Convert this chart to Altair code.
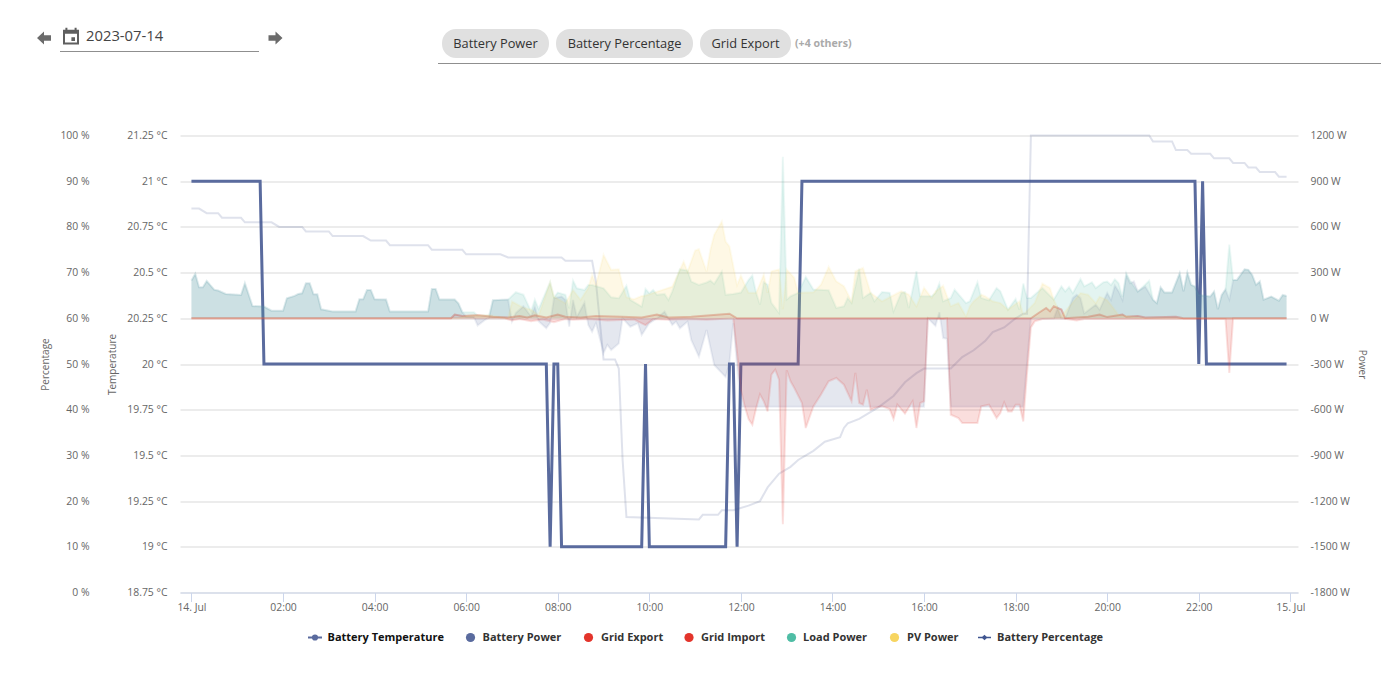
import altair as alt
import pandas as pd

# Each pair: (five-minute slot of the day, value)
temperature = [(0,21),(18,21),(19,20),(93,20),(94,19),(95,20),(96,20),(97,19),(118,19),(119,20),(120,19),(140,19),(141,20),(142,20),(143,19),(144,20),(159,20),(160,21),(263,21),(264,20),(265,21),(266,20),(287,20)]
percentage = [(0,84),(2,84),(4,83),(7,83),(8,82),(13,82),(14,81),(21,81),(23,80),(29,80),(30,79),(36,79),(37,78),(45,78),(47,77),(51,77),(52,76),(62,76),(63,75),(71,75),(72,74),(81,74),(83,73.3),(97,73.3),(98,72.6),(105,72.6),(106,68),(108,51),(111,51),(112,49),(113,29),(114,16.5),(133,16),(134,17),(138,17),(139,18),(142,18),(146,19),(149,20),(151,23),(154,26),(157,27.5),(159,29),(163,31),(166,33),(170,34),(171,36),(172,37),(175,38),(180,40.5),(184,43),(187,46),(190,48),(192,49),(199,49),(202,51.5),(205,53),(208,55),(210,57),(213,58),(216,60),(218,61),(219,61),(220,100),(251,100),(252,98.7),(257,98.7),(258,96.8),(261,96.8),(262,96),(267,96),(268,95),(272,95),(273,94),(276,94),(277,93),(279,93),(280,92),(284,92),(285,91),(287,91)]
load_power = [(0,248),(1,292),(2,204),(3,204),(4,245),(6,187),(7,182),(9,160),(13,153),(14,230),(16,81),(19,77),(21,50),(24,50),(25,132),(27,147),(28,160),(29,164),(30,230),(31,230),(32,158),(33,158),(34,59),(37,44),(43,44),(44,125),(45,125),(46,186),(47,186),(48,125),(51,123),(52,44),(62,44),(63,193),(64,193),(65,123),(69,123),(70,97),(71,40),(74,40),(75,18),(78,18),(79,118),(83,123),(85,171),(87,155),(89,46),(90,123),(91,61),(94,237),(95,138),(96,169),(98,154),(99,66),(100,248),(101,197),(103,186),(104,219),(105,219),(108,197),(110,138),(112,132),(114,213),(115,121),(118,77),(119,193),(120,165),(121,186),(122,154),(124,160),(125,121),(126,175),(128,322),(130,314),(131,241),(133,219),(135,235),(136,248),(137,226),(139,307),(140,154),(142,160),(144,169),(146,252),(147,281),(148,167),(149,90),(150,237),(151,220),(152,101),(154,35),(155,1060),(156,123),(157,145),(159,167),(161,272),(163,189),(167,184),(169,68),(171,79),(172,134),(173,101),(175,325),(176,134),(178,167),(179,112),(181,173),(183,167),(184,46),(186,167),(187,171),(188,68),(190,309),(191,145),(194,145),(195,166),(196,228),(197,112),(199,134),(200,188),(203,100),(204,112),(206,237),(207,134),(209,118),(211,199),(212,177),(214,57),(216,127),(217,57),(218,228),(219,134),(220,134),(223,199),(226,123),(228,210),(229,177),(230,206),(231,166),(233,258),(234,210),(236,237),(237,199),(239,237),(240,241),(241,219),(242,256),(243,230),(244,142),(245,296),(246,247),(248,175),(251,247),(252,122),(253,100),(254,204),(255,170),(257,170),(259,296),(260,178),(261,300),(262,220),(263,208),(264,153),(267,143),(268,176),(269,60),(270,153),(271,190),(272,484),(273,252),(274,252),(276,322),(277,318),(278,285),(279,220),(280,242),(281,122),(283,143),(285,116),(286,153),(287,147)]
battery_power = [(0,248),(1,292),(2,204),(3,204),(4,245),(6,187),(7,182),(9,160),(13,153),(14,230),(16,81),(19,77),(21,50),(24,50),(25,132),(27,147),(28,160),(29,164),(30,230),(31,230),(32,158),(33,158),(34,59),(37,44),(43,44),(44,125),(45,125),(46,186),(47,186),(48,125),(51,123),(52,44),(62,44),(63,193),(64,193),(65,123),(69,123),(70,97),(71,40),(72,10),(74,10),(75,-48),(77,-10),(78,5),(79,118),(83,123),(84,-20),(85,35),(87,79),(89,13),(90,79),(91,-20),(93,-66),(94,-30),(95,132),(97,143),(98,121),(99,-55),(100,121),(101,11),(103,103),(104,-44),(105,-88),(106,-33),(108,-230),(109,-175),(110,-208),(112,-165),(113,0),(115,-55),(117,-33),(118,-110),(120,-33),(122,0),(124,44),(126,-44),(127,-22),(128,-66),(130,-22),(131,-143),(133,-252),(135,-77),(137,-307),(140,-385),(141,-297),(142,-33),(144,-580),(192,-580),(193,0),(195,-50),(196,40),(197,-130),(198,-135),(199,-580),(218,-580),(219,-290),(220,0),(226,0),(227,68),(228,0),(229,0),(231,134),(232,155),(233,134),(234,33),(237,90),(238,57),(240,167),(241,122),(242,215),(243,178),(244,122),(245,285),(246,230),(247,242),(248,178),(250,208),(252,122),(253,100),(254,204),(255,170),(257,170),(259,296),(260,178),(261,300),(262,220),(263,208),(264,153),(267,143),(268,176),(269,60),(270,153),(271,190),(272,125),(273,252),(274,252),(276,322),(277,318),(278,285),(279,220),(280,242),(281,122),(283,143),(285,116),(286,153),(287,147)]
pv_power = [(0,0),(70,0),(72,15),(74,20),(78,20),(83,0),(84,110),(87,70),(89,57),(91,22),(94,237),(95,143),(98,99),(100,186),(102,121),(104,200),(105,285),(106,219),(108,417),(110,318),(112,322),(113,219),(114,138),(116,125),(118,147),(119,150),(126,208),(129,373),(130,307),(132,445),(133,454),(135,307),(136,450),(137,548),(139,636),(140,504),(141,472),(143,219),(144,281),(145,222),(146,167),(148,167),(150,287),(151,167),(152,309),(154,320),(155,60),(156,320),(158,266),(159,167),(163,171),(165,222),(167,338),(169,243),(171,211),(173,112),(174,309),(176,331),(178,167),(181,112),(186,178),(188,156),(190,79),(192,200),(194,134),(195,177),(197,214),(199,79),(201,100),(203,13),(204,79),(205,112),(207,155),(208,145),(210,112),(212,100),(214,57),(217,112),(218,24),(221,100),(223,228),(225,199),(226,123),(228,13),(229,46),(233,166),(235,155),(237,100),(238,142),(240,120),(241,88),(243,22),(248,6),(250,0),(287,0)]
grid_export = [(0,0),(82,0),(84,-15),(86,-5),(89,-20),(92,-8),(95,-25),(98,-5),(100,-10),(104,-5),(109,-15),(116,-8),(119,-45),(121,-5),(125,-10),(130,-5),(135,-10),(142,0),(143,-228),(144,-469),(145,-578),(146,-661),(147,-699),(148,-589),(149,-500),(150,-545),(151,-611),(152,-370),(153,-337),(154,-403),(155,-1352),(156,-342),(157,-414),(158,-458),(160,-556),(161,-720),(163,-578),(165,-500),(167,-414),(169,-392),(171,-436),(173,-545),(174,-359),(175,-556),(176,-567),(177,-469),(178,-600),(179,-589),(181,-578),(183,-596),(184,-661),(185,-567),(187,-626),(189,-545),(190,-720),(191,-556),(192,-545),(193,0),(197,-5),(198,0),(199,-633),(201,-655),(202,-688),(206,-688),(207,-578),(209,-567),(211,-655),(212,-622),(213,-552),(214,-611),(215,-611),(216,-567),(217,-567),(218,-677),(219,-359),(220,-60),(221,-20),(223,-5),(228,0),(232,-15),(234,-5),(236,-5),(271,-5),(272,-358),(273,0),(287,0)]
grid_import = [(0,0),(68,0),(69,25),(71,15),(75,20),(79,10),(83,5),(86,15),(88,5),(90,20),(93,5),(96,25),(98,10),(102,5),(106,15),(113,10),(118,5),(122,25),(125,5),(131,10),(136,20),(141,30),(143,0),(219,0),(220,0),(222,35),(224,68),(225,46),(226,79),(228,57),(229,0),(235,10),(238,25),(240,8),(244,25),(245,10),(248,15),(250,5),(258,10),(260,0),(287,0)]

pct_ticks = [0,10,20,30,40,50,60,70,80,90,100]
temp_ticks = [18.75,19,19.25,19.5,19.75,20,20.25,20.5,20.75,21,21.25]
power_ticks = [-1800,-1500,-1200,-900,-600,-300,0,300,600,900,1200]
hour_ticks = [0,2,4,6,8,10,12,14,16,18,20,22,24]

BLUE = "#5a6b9e"
DEEP = "#3f5590"
RED = "#e3342b"
TEAL = "#4fbda5"
YELLOW = "#f7d560"
FONT = "Open Sans"
TICKFS = 10.4

def frame(pairs):
    return pd.DataFrame({"t": [k * 5 / 60 for k, _ in pairs], "v": [v for _, v in pairs]})

xscale = alt.Scale(domain=[-0.25, 24.167], nice=False, zero=False)
xaxis = alt.Axis(
    title=None, values=hour_ticks, grid=False,
    labelExpr="datum.value==0 ? '14. Jul' : datum.value==24 ? '15. Jul' : (datum.value<10 ? '0' : '') + datum.value + ':00'",
    domainColor="#ccd6eb", tickColor="#ccd6eb", tickSize=9, labelPadding=1,
    labelFont=FONT, labelFontSize=TICKFS, labelColor="#666666", labelFlush=False, labelOverlap=False,
)
X = alt.X("t:Q", scale=xscale, axis=xaxis)

pscale = alt.Scale(domain=[-1800, 1200], nice=False, zero=False)
paxis = alt.Axis(
    orient="right", title="Power", values=power_ticks, labelExpr="datum.value + ' W'",
    grid=True, gridColor="#e6e6e6", gridWidth=1.6, domain=False, ticks=False, labelPadding=12,
    labelFont=FONT, labelFontSize=TICKFS, labelColor="#666666",
    titleFont=FONT, titleFontSize=10, titleColor="#666666", titleFontWeight="normal", titlePadding=7,
)

def area(pairs, color, axis=None, fill=0.16, line=0.1):
    y = alt.Y("v:Q", scale=pscale, axis=axis, stack=None)
    return alt.Chart(frame(pairs)).mark_area(
        color=color, fillOpacity=fill,
        line=alt.OverlayMarkDef(color=color, opacity=line, strokeWidth=2),
    ).encode(x=X, y=y)

temp_line = alt.Chart(frame(temperature)).mark_line(color=BLUE, strokeWidth=3, strokeJoin="miter").encode(
    x=X,
    y=alt.Y("v:Q", scale=alt.Scale(domain=[18.75, 21.25], nice=False, zero=False),
            axis=alt.Axis(orient="left", title="Temperature", values=temp_ticks, labelExpr="datum.value + ' °C'",
                          grid=False, domain=False, ticks=False, offset=12, labelPadding=1,
                          labelFont=FONT, labelFontSize=TICKFS, labelColor="#666666",
                          titleFont=FONT, titleFontSize=10, titleColor="#666666", titleFontWeight="normal", titlePadding=9)),
)
pct_line = alt.Chart(frame(percentage)).mark_line(color=DEEP, strokeWidth=2, opacity=0.17).encode(
    x=X,
    y=alt.Y("v:Q", scale=alt.Scale(domain=[0, 100], nice=False),
            axis=alt.Axis(orient="left", title="Percentage", values=pct_ticks, labelExpr="datum.value + ' %'",
                          grid=False, domain=False, ticks=False, offset=89, labelPadding=2,
                          labelFont=FONT, labelFontSize=TICKFS, labelColor="#666666",
                          titleFont=FONT, titleFontSize=10, titleColor="#666666", titleFontWeight="normal", titlePadding=9)),
)

one = alt.Data(values=[{"a": 1}])
OX, OY = 180, 135.5
def px(x): return alt.value(x - OX)
def py(y): return alt.value(y - OY)

def label(text, x, y, size=10, color="#666666", weight="normal", align="left"):
    return alt.Chart(one).mark_text(text=text, font=FONT, fontSize=size, color=color, fontWeight=weight,
                                    align=align, baseline="middle").encode(x=px(x), y=py(y))
def symbol(shape, x, y, size, color):
    return alt.Chart(one).mark_point(shape=shape, size=size, color=color, filled=True, opacity=1).encode(x=px(x), y=py(y))
def hline(x1, x2, y, color, width=1):
    return alt.Chart(one).mark_rule(color=color, strokeWidth=width).encode(x=px(x1), x2=px(x2), y=py(y))
def chip(x1, x2, y1, y2):
    return alt.Chart(one).mark_rect(color="#e0e0e0", cornerRadius=14).encode(x=px(x1), x2=px(x2), y=py(y1), y2=py(y2))

arrow_left = "M0,-0.93 L0,-0.4 L1,-0.4 L1,0.4 L0,0.4 L0,0.93 L-1,0 Z"
arrow_right = "M0,-0.93 L0,-0.4 L-1,-0.4 L-1,0.4 L0,0.4 L0,0.93 L1,0 Z"
calendar = "M-1,-0.85 L-0.7,-0.85 L-0.7,-1.1 L-0.45,-1.1 L-0.45,-0.85 L0.45,-0.85 L0.45,-1.1 L0.7,-1.1 L0.7,-0.85 L1,-0.85 L1,1 L-1,1 Z M-0.75,-0.35 L-0.75,0.75 L0.75,0.75 L0.75,-0.35 Z M0.05,0.1 L0.5,0.1 L0.5,0.55 L0.05,0.55 Z"

header = [
    symbol(arrow_left, 44, 38, 196, "#6b6b6b"),
    symbol(calendar, 71, 36.5, 256, "#5f5f5f"),
    label("2023-07-14", 86, 37, size=14.8, color="#444444"),
    hline(60, 259, 51.5, "#8f8f8f"),
    symbol(arrow_right, 275.5, 38, 196, "#6b6b6b"),
    chip(442, 549, 29, 58), chip(556, 693, 29, 58), chip(700, 791, 29, 58),
    label("Battery Power", 495.5, 43.5, size=12.8, color="#333333", align="center"),
    label("Battery Percentage", 624.5, 43.5, size=12.8, color="#333333", align="center"),
    label("Grid Export", 745.5, 43.5, size=12.8, color="#333333", align="center"),
    label("(+4 others)", 795, 43.5, size=10.6, color="#aaaaaa", weight="bold"),
    hline(438, 1381, 63.5, "#8f8f8f"),
]
LY = 637.5
legend = [
    hline(308, 322, LY, BLUE, 2), symbol("circle", 315, LY, 38, BLUE),
    label("Battery Temperature", 327.5, LY, size=11, color="#111111", weight="bold"),
    symbol("circle", 470.5, LY, 85, BLUE),
    label("Battery Power", 482.5, LY, size=11, color="#333333", weight="bold"),
    symbol("circle", 588.5, LY, 85, RED),
    label("Grid Export", 601, LY, size=11, color="#333333", weight="bold"),
    symbol("circle", 689, LY, 85, RED),
    label("Grid Import", 701, LY, size=11, color="#333333", weight="bold"),
    symbol("circle", 791.5, LY, 85, TEAL),
    label("Load Power", 803, LY, size=11, color="#333333", weight="bold"),
    symbol("circle", 894.5, LY, 85, YELLOW),
    label("PV Power", 907, LY, size=11, color="#333333", weight="bold"),
    hline(978, 991, LY, DEEP, 1.5), symbol("diamond", 984.5, LY, 32, DEEP),
    label("Battery Percentage", 997, LY, size=11, color="#333333", weight="bold"),
]

chart = alt.layer(
    area(battery_power, BLUE, axis=paxis),
    temp_line,
    pct_line,
    area(grid_export, RED, line=0.14),
    area(grid_import, RED, line=0.35),
    area(load_power, TEAL),
    area(pv_power, YELLOW),
    *header, *legend,
).resolve_scale(y="independent").properties(
    width=1118, height=457,
    autosize=alt.AutoSizeParams(type="none"),
    padding={"left": 172, "top": 127.5, "right": 83, "bottom": 79.5},
    background="white",
).configure_view(stroke=None)

chart.save("out.html", embed_options={"renderer": "svg", "actions": False})
